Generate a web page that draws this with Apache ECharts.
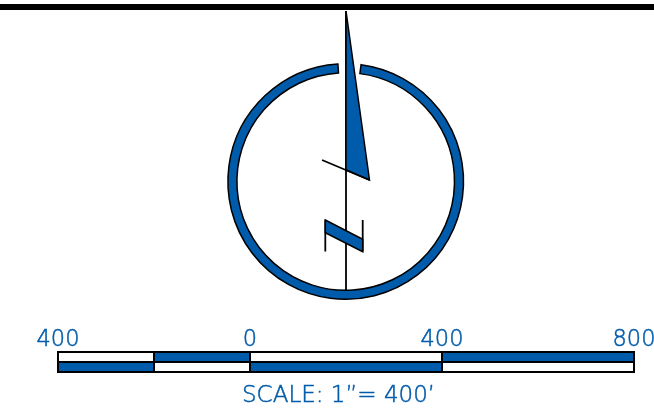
<!DOCTYPE html>
<html><head><meta charset="utf-8">
<style>html,body{margin:0;padding:0;background:#fff}#c{width:654px;height:417px}</style>
<script src="https://cdn.jsdelivr.net/npm/echarts@6/dist/echarts.min.js"></script>
</head><body><div id="c"></div>
<script>
const scaleTicks = [-400, 0, 400, 800];
const segmentStart = [-400, -200, 0, 400];
const segmentEnd = [-200, 0, 400, 800];
const upperFilled = [0, 1, 0, 1];
const lowerFilled = [1, 0, 1, 0];
const scaleCaption = 'SCALE: 1\u201d= 400\u2019';
const compassRing = [345.7, 181.5, 117.8, 108.8, -82.5, 266.2];
const northPointer = [[346, 11], [369.5, 180], [346, 170]];
const pointerBarb = [[322, 160], [369.5, 180]];
const meridian = [[346, 11], [346, 291]];
const breakBlock = [[325.3, 220], [362.7, 239.3], [362.7, 251.7], [325.3, 232.7]];
const breakLeft = [[325.3, 220], [325.3, 251.5]];
const breakRight = [[362.7, 220], [362.7, 251.5]];
const headerRule = [[0, 7], [654, 7]];

const BLUE = '#005BAA', INK = '#000';
const FONT = '"DejaVu Sans ExtraLight", "DejaVu Sans Light", "DejaVu Sans"';
const chart = echarts.init(document.getElementById('c'), null, {renderer: 'canvas'});

function poly(points, fill, width) {
  return {
    type: 'custom', xAxisIndex: 1, yAxisIndex: 1, silent: true, clip: false,
    data: [0],
    renderItem: (p, api) => ({
      type: fill ? 'polygon' : 'polyline',
      shape: {points: points.map(q => api.coord(q))},
      style: {fill: fill || 'none', stroke: INK, lineWidth: width, lineJoin: 'miter'}
    })
  };
}
function bars(rowBase, filled) {
  return {
    type: 'custom', xAxisIndex: 0, yAxisIndex: 0, silent: true, clip: false,
    data: segmentStart.map((s, i) => [s, segmentEnd[i], rowBase, filled[i]]),
    encode: {x: [0, 1], y: 2},
    renderItem: (p, api) => {
      const a = api.coord([api.value(0), api.value(2) + 1]);
      const b = api.coord([api.value(1), api.value(2)]);
      return {
        type: 'rect',
        shape: {x: a[0], y: a[1], width: b[0] - a[0], height: b[1] - a[1]},
        style: {fill: api.value(3) ? BLUE : '#fff', stroke: INK, lineWidth: 2}
      };
    }
  };
}

chart.setOption({
  animation: false,
  backgroundColor: '#fff',
  title: {
    text: scaleCaption, left: 242, top: 385, padding: 0,
    textStyle: {color: BLUE, fontFamily: FONT, fontWeight: 'normal', fontSize: 23,
      textBorderColor: BLUE, textBorderWidth: 0.5}
  },
  grid: [
    {left: 58, top: 352, width: 576, height: 20, outerBoundsMode: 'none'},
    {left: 0, top: 0, width: 654, height: 417, outerBoundsMode: 'none'}
  ],
  xAxis: [
    {type: 'value', gridIndex: 0, position: 'top', min: -400, max: 800, interval: 400,
     axisLine: {show: false}, axisTick: {show: false}, splitLine: {show: false},
     axisLabel: {show: true, margin: 0, color: BLUE, fontFamily: FONT, fontSize: 22.5,
       textBorderColor: BLUE, textBorderWidth: 0.5,
       showMinLabel: true, showMaxLabel: true, hideOverlap: false,
       customValues: scaleTicks, formatter: v => String(Math.abs(v))}},
    {type: 'value', gridIndex: 1, min: 0, max: 654, show: false}
  ],
  yAxis: [
    {type: 'value', gridIndex: 0, min: 0, max: 2, show: false},
    {type: 'value', gridIndex: 1, min: 0, max: 417, inverse: true, show: false}
  ],
  series: [
    bars(1, upperFilled),
    bars(0, lowerFilled),
    poly(headerRule, null, 6),
    {
      type: 'custom', xAxisIndex: 1, yAxisIndex: 1, silent: true, clip: false, data: [0],
      renderItem: (p, api) => {
        const c = api.coord([compassRing[0], compassRing[1]]);
        return {
          type: 'sector',
          shape: {cx: c[0], cy: c[1], r: compassRing[2], r0: compassRing[3],
            startAngle: compassRing[4] * Math.PI / 180, endAngle: compassRing[5] * Math.PI / 180, clockwise: true},
          style: {fill: BLUE, stroke: INK, lineWidth: 1.5}
        };
      }
    },
    poly(meridian, null, 1.8),
    poly(northPointer, BLUE, 1.5),
    poly(pointerBarb, null, 1.8),
    poly(breakLeft, null, 1.8),
    poly(breakRight, null, 1.8),
    poly(breakBlock, BLUE, 1.5)
  ]
});
</script></body></html>
